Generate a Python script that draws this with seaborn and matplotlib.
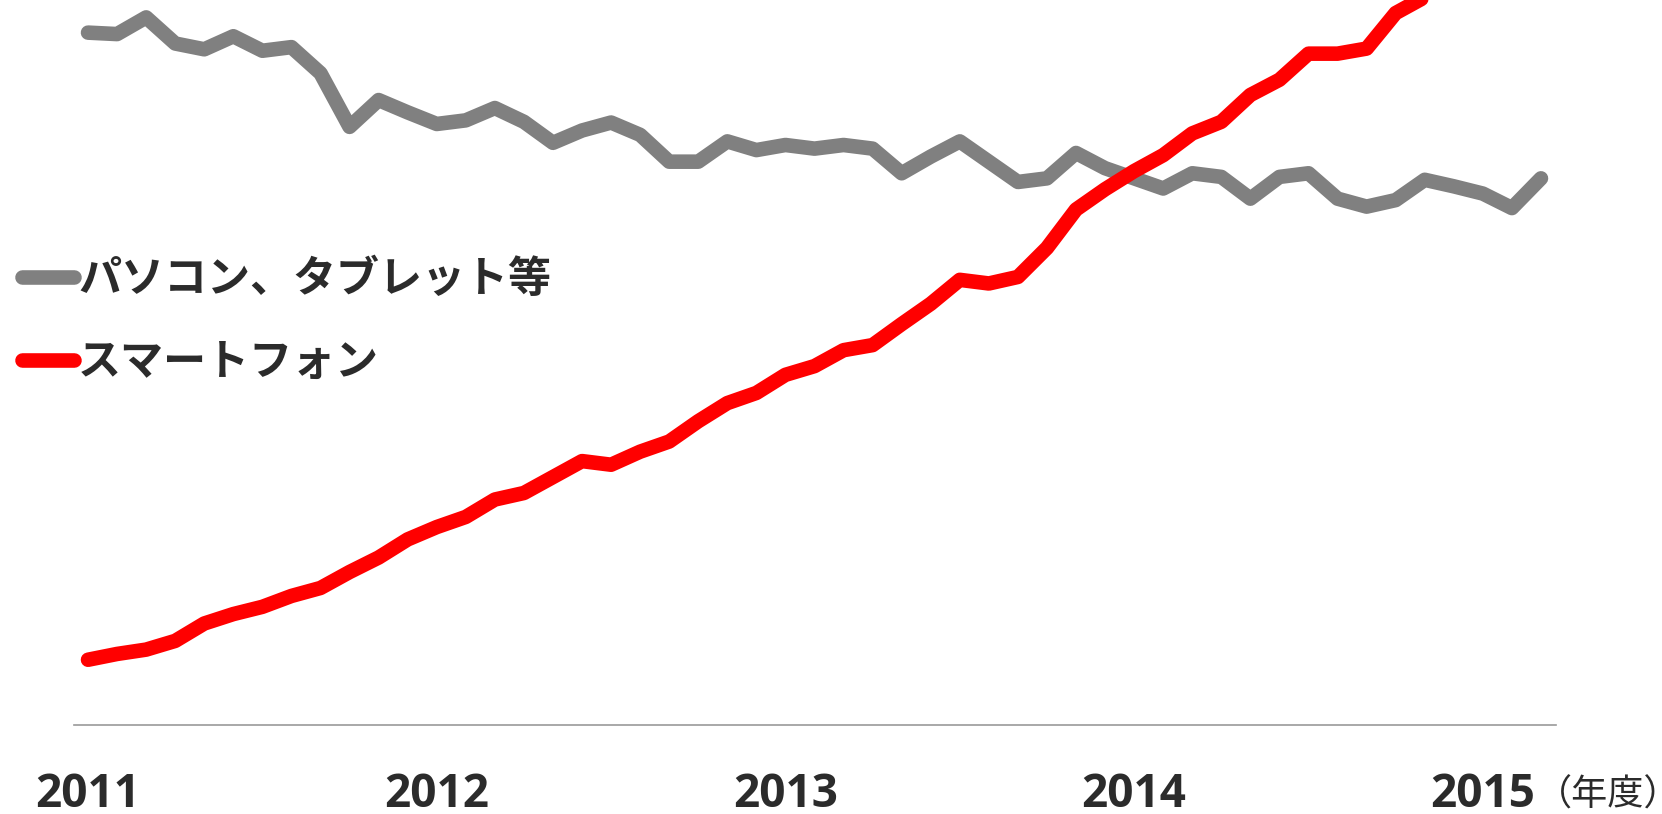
import pandas as pd
import seaborn as sns
import matplotlib.pyplot as plt

# monthly index, 0 = start of FY2011
months = list(range(51))

pc_label = 'パソコン、タブレット等'
phone_label = 'スマートフォン'

pc_values = [95.5, 95.3, 97.6, 94.0, 93.2, 95.0, 93.0, 93.5, 89.9, 82.5,
             86.2, 84.5, 82.9, 83.4, 85.1, 83.2, 80.3, 82.0, 83.1, 81.4,
             77.7, 77.7, 80.5, 79.3, 80.0, 79.5, 80.0, 79.5, 76.1, 78.4,
             80.5, 77.7, 74.9, 75.4, 78.9, 76.8, 75.4, 74.0, 76.1, 75.6,
             72.6, 75.6, 76.1, 72.6, 71.5, 72.4, 75.2, 74.3, 73.3, 71.3,
             75.4]

phone_values = [9.0, 9.8, 10.4, 11.6, 14.0, 15.3, 16.3, 17.8, 18.9, 21.1,
                23.1, 25.6, 27.3, 28.7, 31.1, 32.0, 34.2, 36.4, 35.9, 37.7,
                39.1, 41.9, 44.4, 45.8, 48.3, 49.5, 51.7, 52.4, 55.3, 58.1,
                61.4, 60.9, 61.8, 65.8, 71.1, 73.9, 76.4, 78.6, 81.6, 83.2,
                86.9, 89.0, 92.6, 92.6, 93.3, 98.2, 100.4, 104.0]

year_ticks = [0, 12, 24, 36, 48]
year_labels = ['2011', '2012', '2013', '2014', '2015']

df = pd.concat([
    pd.DataFrame({'month': months, 'value': pc_values, 'series': pc_label}),
    pd.DataFrame({'month': months[:len(phone_values)], 'value': phone_values, 'series': phone_label}),
])

sns.set_theme(style='white')
plt.rcParams['font.family'] = ['Noto Sans CJK JP', 'DejaVu Sans']

W, H = 1662, 814
fig = plt.figure(figsize=(W / 100, H / 100), dpi=100)
ax = fig.add_axes([73.5 / W, 1 - 725 / H, 1482 / W, 725 / H])

sns.lineplot(data=df, x='month', y='value', hue='series',
             hue_order=[pc_label, phone_label],
             palette={pc_label: '#808080', phone_label: '#ff0000'},
             linewidth=10.5, solid_capstyle='round', solid_joinstyle='round',
             errorbar=None, legend=False, ax=ax)

ax.set_xlim(-0.5, 50.5)
ax.set_ylim(0, 100)
ax.set_xlabel('')
ax.set_ylabel('')
ax.set_yticks([])
ax.set_xticks(year_ticks, year_labels)
ax.tick_params(axis='x', length=0, pad=33, labelsize=33, labelcolor='#2b2b2b')
for lab in ax.get_xticklabels():
    lab.set_fontweight('bold')
    lab.set_family(['Open Sans', 'DejaVu Sans'])

for side in ['top', 'left', 'right']:
    ax.spines[side].set_visible(False)
ax.spines['bottom'].set_color('#999999')
ax.spines['bottom'].set_linewidth(1.2)

ax.annotate('（年度）', xy=(48, 0), xycoords='data', xytext=(38, -58),
            textcoords='offset points', ha='left', va='baseline',
            fontsize=26, color='#2b2b2b', annotation_clip=False)

lines = ax.get_lines()[:2]
leg = ax.legend(handles=lines, labels=[pc_label, phone_label],
                loc='upper left', bbox_to_anchor=(22 / W, 1 - 257 / H),
                bbox_transform=fig.transFigure, frameon=False,
                borderpad=0, borderaxespad=0, handlelength=1.2,
                handletextpad=0.1, labelspacing=0.9,
                prop={'family': ['Noto Sans CJK JP'], 'weight': 'bold', 'size': 31})
for t in leg.get_texts():
    t.set_color('#2b2b2b')

fig.savefig('out.png', dpi=100)
